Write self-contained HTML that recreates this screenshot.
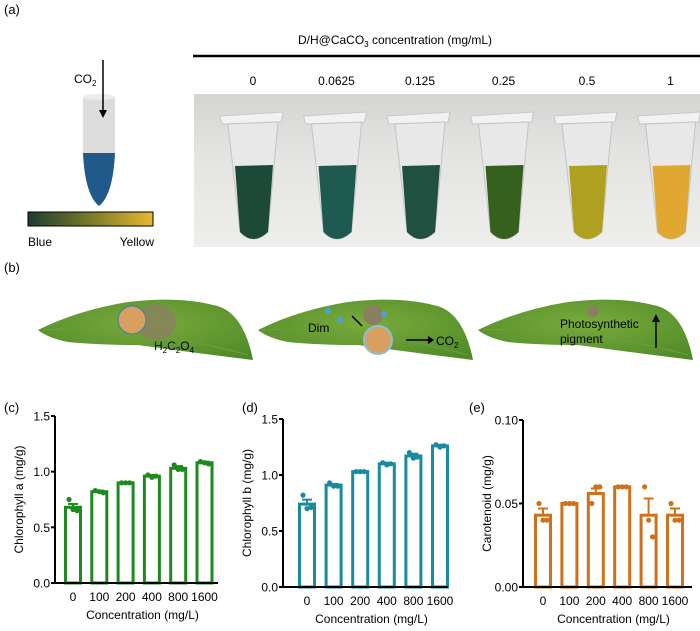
<!DOCTYPE html>
<html><head><meta charset="utf-8"><style>
body{margin:0;background:#fff;width:700px;height:626px;overflow:hidden;font-family:"Liberation Sans",sans-serif}
svg text{font-family:"Liberation Sans",sans-serif}
</style></head><body>
<svg id="fig" width="700" height="626" viewBox="0 0 700 626" xmlns="http://www.w3.org/2000/svg">
<defs>
<linearGradient id="cb" x1="0" x2="1"><stop offset="0" stop-color="#1f3a30"/><stop offset="0.5" stop-color="#7a7a2a"/><stop offset="1" stop-color="#e8b830"/></linearGradient>
<linearGradient id="bg" x1="0" y1="0" x2="0" y2="1"><stop offset="0" stop-color="#d4d4d2"/><stop offset="0.4" stop-color="#e4e4e2"/><stop offset="1" stop-color="#eeeeec"/></linearGradient>
<radialGradient id="leafg" cx="0.5" cy="0.4" r="0.7"><stop offset="0" stop-color="#7aab3c"/><stop offset="1" stop-color="#4f8a28"/></radialGradient>
</defs>
<text x="4" y="14" font-size="13">(a)</text>
<g>
<rect x="83" y="97" width="32" height="56" fill="#dcdcdc"/>
<ellipse cx="99" cy="97" rx="16" ry="3" fill="#ececec"/>
<path d="M83,153 L115,153 Q113,195 99,206 Q85,195 83,153Z" fill="#1f5a8a"/>
<line x1="103" y1="60" x2="103" y2="112" stroke="#000" stroke-width="1.5"/>
<path d="M99,110 L107,110 L103,118Z" fill="#000"/>
<text x="74" y="83" font-size="12">CO<tspan font-size="8" dy="3">2</tspan></text>
</g>
<rect x="28" y="212" width="125" height="14" fill="url(#cb)" stroke="#000" stroke-width="1"/>
<text x="28" y="246" font-size="12">Blue</text>
<text x="154" y="246" font-size="12" text-anchor="end">Yellow</text>
<text x="395" y="44" font-size="12" text-anchor="middle">D/H@CaCO<tspan font-size="8" dy="3">3</tspan><tspan dy="-3"> concentration (mg/mL)</tspan></text>
<line x1="193" y1="56" x2="700" y2="56" stroke="#000" stroke-width="2.5"/>
<g id="photo"><rect x="194" y="94" width="506" height="153" fill="url(#bg)"/></g>
<g id="photoLabels"></g>
<text x="4" y="272" font-size="13">(b)</text>
<g id="leaves"></g>
<text x="4" y="412" font-size="13">(c)</text>
<text x="242" y="412" font-size="13">(d)</text>
<text x="469" y="412" font-size="13">(e)</text>
<g id="charts"></g>
</svg>
<script>
const NS="http://www.w3.org/2000/svg";
function mk(p,t,a){const e=document.createElementNS(NS,t);for(const k in a)e.setAttribute(k,a[k]);p.appendChild(e);return e;}
const tubeLabels=["0","0.0625","0.125","0.25","0.5","1"];
const tubeColors=["#1d4a38","#1f5a52","#1f5040","#35601e","#b0a020","#e0a830"];
const photo=document.getElementById('photo');
const pl=document.getElementById('photoLabels');
tubeLabels.forEach((l,i)=>{
  const cx=253+i*83.5;
  const t=mk(pl,'text',{x:cx,y:85,'font-size':12,'text-anchor':'middle'});t.textContent=l;
  
  
  const g=mk(photo,'g',{});
  
  
  mk(g,'path',{d:`M${cx-33},116 L${cx+30},112 L${cx+28},122 L${cx-31},124Z`,fill:'#f2f2f2',stroke:'#c8c8c8'});
  mk(g,'path',{d:`M${cx-25},124 L${cx+25},122 L${cx+15},232 Q${cx},246 ${cx-13},232Z`,fill:'#e8e8e8',stroke:'#c4c4c4'});
  mk(g,'path',{d:`M${cx-18},166 L${cx+20},165 L${cx+15},232 Q${cx},246 ${cx-13},232Z`,fill:tubeColors[i]});
});
const lv=document.getElementById('leaves');
function leaf(x0){
  const g=mk(lv,'g',{transform:`translate(${x0},0)`});
  
  
  mk(g,'path',{d:'M0,330 Q40,310 90,302 Q140,296 175,305 Q205,310 215,360 Q150,352 100,345 Q60,345 30,342 Q10,338 0,330Z',fill:'url(#leafg)'});
  mk(g,'path',{d:'M5,330 Q100,325 210,355',stroke:'#6e9e40',fill:'none','stroke-width':1});
  return g;
}
const l1=leaf(38),l2=leaf(258),l3=leaf(478);
mk(l1,'ellipse',{cx:118,cy:322,rx:20,ry:18,fill:'#8a8060',opacity:0.8});
mk(l1,'circle',{cx:94,cy:320,r:14,fill:'#d8a060',stroke:'#3a7aa8','stroke-width':1});
let t=mk(l1,'text',{x:116,y:350,'font-size':12});t.innerHTML='H<tspan font-size="8" dy="3">2</tspan><tspan dy="-3">C</tspan><tspan font-size="8" dy="3">2</tspan><tspan dy="-3">O</tspan><tspan font-size="8" dy="3">4</tspan>';
mk(l2,'circle',{cx:115,cy:315,r:10,fill:'#8a8060'});
mk(l2,'circle',{cx:70,cy:311,r:3,fill:'#4aa0e0'});mk(l2,'circle',{cx:82,cy:320,r:3,fill:'#4aa0e0'});mk(l2,'circle',{cx:126,cy:314,r:3,fill:'#4aa0e0'});
mk(l2,'circle',{cx:120,cy:340,r:14,fill:'#d8a060',stroke:'#8ac0d8','stroke-width':2});
mk(l2,'line',{x1:104,y1:326,x2:94,y2:316,stroke:'#000','stroke-width':1.5});
mk(l2,'line',{x1:148,y1:340,x2:172,y2:340,stroke:'#000','stroke-width':1.5});
mk(l2,'path',{d:'M170,336 L176,340 L170,344Z',fill:'#000'});
t=mk(l2,'text',{x:50,y:332,'font-size':12});t.textContent='Dim';
t=mk(l2,'text',{x:178,y:345,'font-size':12});t.innerHTML='CO<tspan font-size="8" dy="3">2</tspan>';
mk(l3,'circle',{cx:115,cy:311,r:6,fill:'#8a8060'});
t=mk(l3,'text',{x:82,y:328,'font-size':12});t.textContent='Photosynthetic';
t=mk(l3,'text',{x:82,y:343,'font-size':12});t.textContent='pigment';
mk(l3,'line',{x1:178,y1:348,x2:178,y2:320,stroke:'#000','stroke-width':1.5});
mk(l3,'path',{d:'M174,322 L178,314 L182,322Z',fill:'#000'});

const categories=["0","100","200","400","800","1600"];
const chlAMeans=[0.68,0.82,0.90,0.96,1.03,1.08];
const chlAErr=[0.03,0.01,0.005,0.01,0.02,0.01];
const chlAPts=[[0.75,0.66,0.65],[0.83,0.82,0.81],[0.90,0.90,0.90],[0.97,0.95,0.96],[1.06,1.02,1.02],[1.09,1.08,1.07]];
const chlBMeans=[0.74,0.91,1.03,1.10,1.17,1.26];
const chlBErr=[0.04,0.01,0.005,0.01,0.02,0.01];
const chlBPts=[[0.82,0.70,0.71],[0.93,0.90,0.90],[1.03,1.03,1.03],[1.11,1.09,1.10],[1.20,1.15,1.16],[1.27,1.25,1.26]];
const carMeans=[0.043,0.050,0.056,0.060,0.043,0.043];
const carErr=[0.004,0.0,0.003,0.0,0.010,0.004];
const carPts=[[0.05,0.04,0.04],[0.05,0.05,0.05],[0.05,0.06,0.06],[0.06,0.06,0.06],[0.06,0.04,0.03],[0.05,0.04,0.04]];
const ticksA=["0.0","0.5","1.0","1.5"];const ticksAVals=[0,0.5,1.0,1.5];
const ticksC=["0.00","0.05","0.10"];const ticksCVals=[0,0.05,0.10];

const charts=document.getElementById('charts');
function chart(name,ax,y0,y1,x0,step,xend,ymax,means,errs,pts,tickL,tickV,color,ytitle){
  const g=mk(charts,'g',{});
  
  
  const ys=v=>y0-(v/ymax)*(y0-y1);
  const xs=i=>x0+i*step;
  means.forEach((m,i)=>{
    const b=mk(g,'rect',{x:xs(i)-7.5,y:ys(m),width:15,height:y0-ys(m),fill:'#fff',stroke:color,'stroke-width':3});
    
    
    if(errs[i]>0){
      mk(g,'line',{x1:xs(i),x2:xs(i),y1:ys(m),y2:ys(m+errs[i]),stroke:color,'stroke-width':2});
      mk(g,'line',{x1:xs(i)-5,x2:xs(i)+5,y1:ys(m+errs[i]),y2:ys(m+errs[i]),stroke:color,'stroke-width':2});
    }
    pts[i].forEach((p,j)=>{
      const c=mk(g,'circle',{cx:xs(i)+(j-1)*4,cy:ys(p),r:2.6,fill:color});
      
      
    });
    const tl=mk(g,'text',{x:xs(i),y:y0+18,'font-size':12,'text-anchor':'middle'});tl.textContent=categories[i];
    
    
  });
  mk(g,'path',{d:`M${ax},${y1} L${ax},${y0} L${xend},${y0}`,stroke:'#000','stroke-width':2,fill:'none'});
  tickV.forEach((v,i)=>{
    mk(g,'line',{x1:ax-4,x2:ax,y1:ys(v),y2:ys(v),stroke:'#000','stroke-width':2});
    const tl=mk(g,'text',{x:ax-5,y:ys(v)+4.5,'font-size':12,'text-anchor':'end'});tl.textContent=tickL[i];
    
    
  });
  const xt=mk(g,'text',{x:(ax+xend)/2+6,y:y0+36,'font-size':12,'text-anchor':'middle'});xt.textContent='Concentration (mg/L)';
  
  
  const yt=mk(g,'text',{x:0,y:0,'font-size':12,'text-anchor':'middle',transform:`translate(${ax-32},${(y0+y1)/2}) rotate(-90)`});yt.textContent=ytitle;
  
  
}
chart('chlorophyll-a-chart',55,583,416,73,26.3,218,1.5,chlAMeans,chlAErr,chlAPts,ticksA,ticksAVals,'#1e8a1e','Chlorophyll a (mg/g)');
chart('chlorophyll-b-chart',283,587,419,307,26.6,448,1.5,chlBMeans,chlBErr,chlBPts,ticksA,ticksAVals,'#1a8aa0','Chlorophyll b (mg/g)');
chart('carotenoid-chart',523,587,420,543,26.4,692,0.10,carMeans,carErr,carPts,ticksC,ticksCVals,'#d0701a','Carotenoid (mg/g)');
</script>
</body></html>
